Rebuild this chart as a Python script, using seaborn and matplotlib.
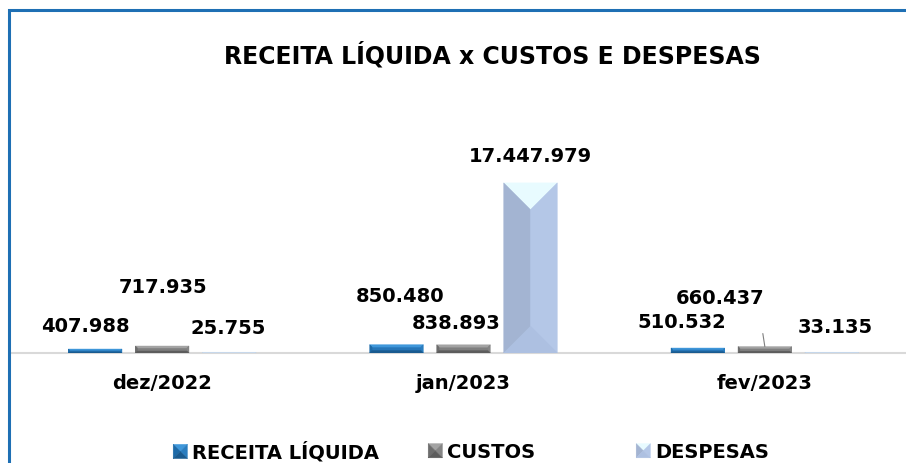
import numpy as np
import pandas as pd
import matplotlib
matplotlib.use("Agg")
import matplotlib.pyplot as plt
import seaborn as sns
from matplotlib.patches import Polygon, Rectangle
from matplotlib.legend_handler import HandlerBase
from matplotlib.lines import Line2D

# ---------------- data ----------------
months = ["dez/2022", "jan/2023", "fev/2023"]
series = ["RECEITA LÍQUIDA", "CUSTOS", "DESPESAS"]
receita = [407988, 850480, 510532]
custos = [717935, 838893, 660437]
despesas = [25755, 17447979, 33135]

# ---------------- style ----------------
base_colors = {"RECEITA LÍQUIDA": "#2676b8", "CUSTOS": "#7f7f7f", "DESPESAS": "#b4c7e7"}
# bevel faces: top, left, right, bottom
bevel = {
    "RECEITA LÍQUIDA": ["#3f97da", "#1d6aa8", "#2a7dbf", "#195a8f"],
    "CUSTOS": ["#a3a3a3", "#6c6c6c", "#858585", "#5c5c5c"],
    "DESPESAS": ["#e8fbff", "#a3b4d2", "#b4c7e7", "#adc0e1"],
}
# label offsets (pixels) relative to bar top centre, per series per month
label_off = {
    "RECEITA LÍQUIDA": [(-10, 23), (4, 48), (-16, 26)],
    "CUSTOS": [(1, 59), (-7, 21), (-45, 48)],
    "DESPESAS": [(-1, 24), (0, 26), (3, 25)],
}
legend_x_px = [173, 428, 636]

sns.set_theme(style="white")
plt.rcParams["font.family"] = ["DejaVu Sans"]
plt.rcParams["text.color"] = "black"

W, H = 906, 463
fig = plt.figure(figsize=(W / 100, H / 100), dpi=100)
fig.patch.set_facecolor("white")

ax_left = 11.5 / W
ax_w = 904 / W
ax_bottom = (H - 353) / H
ax_h = 195 / H
ax = fig.add_axes([ax_left, ax_bottom, ax_w, ax_h])

df = pd.DataFrame({
    "mes": months * 3,
    "serie": [series[0]] * 3 + [series[1]] * 3 + [series[2]] * 3,
    "valor": receita + custos + despesas,
})

sns.barplot(data=df, x="mes", y="valor", hue="serie", order=months, hue_order=series,
            palette=base_colors, width=0.667, gap=0.2, ax=ax, legend=False,
            linewidth=0, saturation=1, zorder=2)

ax.set_xlim(-0.5, 2.5)
ax.set_ylim(0, 20e6)
ax.set_xlabel("")
ax.set_ylabel("")
ax.set_yticks([])
for s in ["top", "left", "right"]:
    ax.spines[s].set_visible(False)
ax.spines["bottom"].set_color("#d9d9d9")
ax.spines["bottom"].set_linewidth(1.5)
ax.spines["bottom"].set_zorder(1)
ax.tick_params(axis="x", length=0, pad=15, labelsize=14)
for t in ax.get_xticklabels():
    t.set_fontweight("bold")
    t.set_color("black")
ax.set_facecolor("none")

# bevel overlay, computed from each bar's geometry
fig.canvas.draw()
inv = ax.transData.inverted()
bars = [p for p in ax.patches if isinstance(p, Rectangle)]
bars = sorted(bars, key=lambda p: p.get_x())
vals_map = {series[0]: receita, series[1]: custos, series[2]: despesas}

for idx, p in enumerate(bars):
    x0, y0 = p.get_x(), p.get_y()
    w, h = p.get_width(), p.get_height()
    (px0, py0) = ax.transData.transform((x0, y0))
    (px1, py1) = ax.transData.transform((x0 + w, y0 + h))
    pw, ph = px1 - px0, py1 - py0
    if ph <= 0:
        continue
    s = series[idx % 3]
    top_c, left_c, right_c, bot_c = bevel[s]
    d = min(pw / 2.0, ph / 3.5, 28)
    pts = {
        "tl": (px0, py1), "tr": (px1, py1), "bl": (px0, py0), "br": (px1, py0),
        "itl": (px0 + d, py1 - d), "itr": (px1 - d, py1 - d),
        "ibl": (px0 + d, py0 + d), "ibr": (px1 - d, py0 + d),
    }
    faces = [
        (["tl", "tr", "itr", "itl"], top_c),
        (["tl", "itl", "ibl", "bl"], left_c),
        (["tr", "br", "ibr", "itr"], right_c),
        (["bl", "ibl", "ibr", "br"], bot_c),
    ]
    for keys, c in faces:
        poly = np.array([inv.transform(pts[k]) for k in keys])
        ax.add_patch(Polygon(poly, closed=True, facecolor=c, edgecolor=c,
                             linewidth=0.3, zorder=3))

# data labels
for idx, p in enumerate(bars):
    mi, si = idx // 3, idx % 3
    s = series[si]
    v = vals_map[s][mi]
    cx = p.get_x() + p.get_width() / 2
    top = p.get_height()
    dx, dy = label_off[s][mi]
    txt = f"{v:,}".replace(",", ".")
    ax.annotate(txt, (cx, top), xytext=(dx * 0.72, dy * 0.72), textcoords="offset points",
                ha="center", va="center", fontsize=14, fontweight="bold", color="black",
                zorder=5, annotation_clip=False)

# leader line for fev custos label
pc = bars[7]
cxl = pc.get_x() + pc.get_width() / 2
ax.annotate("", xy=(cxl, pc.get_height()), xytext=(-2 * 0.72, 13 * 0.72),
            textcoords="offset points",
            arrowprops=dict(arrowstyle="-", color="#7f7f7f", lw=0.8, shrinkA=0, shrinkB=0),
            annotation_clip=False)

# title
fig.text(492 / W, 1 - 55 / H, "RECEITA LÍQUIDA x CUSTOS E DESPESAS", ha="center", va="center",
         fontsize=17, fontweight="bold", color="black")

# border
fig.add_artist(Rectangle((8.5 / W, -0.1), 1.2, 1 - 10.5 / H + 0.1, transform=fig.transFigure,
                         fill=False, edgecolor="#1e6fb4", linewidth=2.2, zorder=10))


# legend with bevelled squares
class BevelHandler(HandlerBase):
    def __init__(self, cols):
        super().__init__()
        self.cols = cols

    def create_artists(self, legend, orig_handle, xdescent, ydescent, width, height, fontsize, trans):
        s = min(width, height)
        x0 = -xdescent + (width - s) / 2
        y0 = -ydescent + (height - s) / 2
        cxm, cym = x0 + s / 2, y0 + s / 2
        tl, tr, bl, br = (x0, y0 + s), (x0 + s, y0 + s), (x0, y0), (x0 + s, y0)
        c = (cxm, cym)
        top_c, left_c, right_c, bot_c = self.cols
        arts = []
        for pts, col in [([tl, tr, c], top_c), ([tl, c, bl], left_c), ([tr, br, c], right_c), ([bl, c, br], bot_c)]:
            arts.append(Polygon(pts, closed=True, facecolor=col, edgecolor=col, linewidth=0.3, transform=trans))
        return arts


for s, lx in zip(series, legend_x_px):
    h = Line2D([], [])
    fig.legend([h], [s], loc="center left", bbox_to_anchor=(lx / W, 1 - 452 / H),
               frameon=False, handler_map={h: BevelHandler(bevel[s])},
               handlelength=0.75, handleheight=0.75, handletextpad=0.25,
               borderpad=0, borderaxespad=0, labelcolor="black",
               prop={"size": 14, "weight": "bold"})

fig.savefig("out.png", dpi=100, facecolor="white")
